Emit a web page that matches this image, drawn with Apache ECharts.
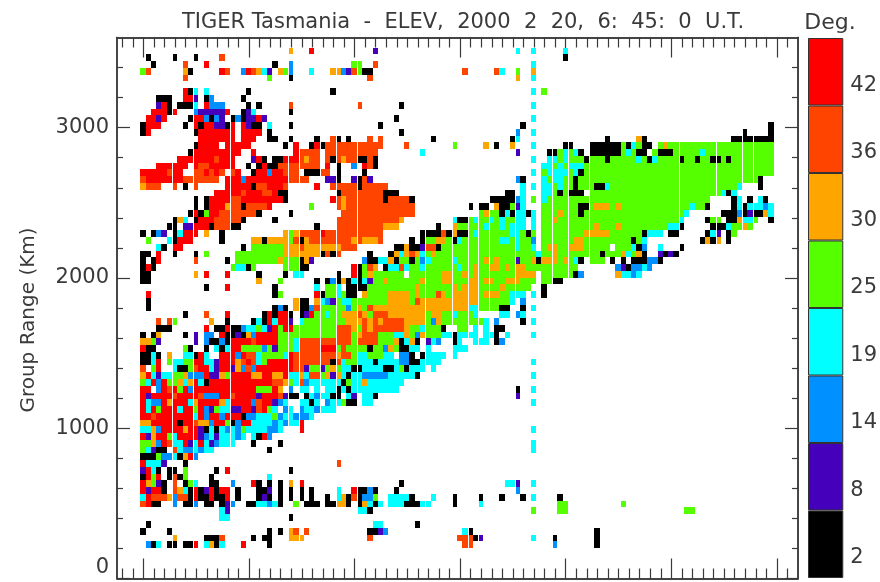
<!DOCTYPE html>
<html><head><meta charset="utf-8"><style>html,body{margin:0;padding:0;background:#fff}#c{width:880px;height:582px}</style>
<script src="https://cdn.jsdelivr.net/npm/echarts@6/dist/echarts.min.js"></script></head><body><div id="c"></div>
<script>
// Elevation classes (Deg.) and their colours
const levelLabels = ["2","8","14","19","25","30","36","42"];
const levelCodes  = "kpbcgorR";
const levelColors = ["#000000","#4400bb","#0090ff","#00ffff","#55ff00","#ffa500","#ff4400","#ff0000"];
const yMajorTicks = [0,1000,2000,3000];
const yMinorTicks = [200,400,600,800,1200,1400,1600,1800,2200,2400,2600,2800,3200,3400];
const xMajorTicks = [0.6,20.6,40.6,60.6,80.6,100.6,120.6];
const xMinorTicks = [-3.4,-1.4,2.6,4.6,6.6,8.6,10.6,12.6,14.6,16.6,18.6,22.6,24.6,26.6,28.6,30.6,32.6,34.6,36.6,38.6,42.6,44.6,46.6,48.6,50.6,52.6,54.6,56.6,58.6,62.6,64.6,66.6,68.6,70.6,72.6,74.6,76.6,78.6,82.6,84.6,86.6,88.6,90.6,92.6,94.6,96.6,98.6,102.6,104.6,106.6,108.6,110.6,112.6,114.6,116.6,118.6,122.6];
const gapColumns = [6,10,17,28,30,34,37,41,54,59,62,64,66,71,78,81,85,102,109,114,116];
const firstRange = 3510, rangeStep = 45;
// One string per range gate from the top: "column:codes"; a number after a code repeats it, _ is no echo
const echoRows = [
"28:o 32:R 44:p 71:c 74:c 80:c",
"1:k 6:k 10:k 15:r 80:k",
"2:k 8:r 12:R 25:k 28:b 40:g 41:g 44:r 74:c",
"0:gr 8:ok 15:Rr 19:bRrocp_ogb 32:c 36:o2bpr 41:gk2 61:r 67:rc 71:g 74:o",
"8:r 24:g 28:k 43:r 71:o 74:c",
"",
"8:Rkc_c 20:k 36:k 74:c 76:g",
"3:k3 8:R2 10:p_kb 19:k",
"3:pRk 7:k3 10:c_Rb3 20:k_k 28:r 41:r 49:k 74:c",
"2:R3k 6:R 10:bp5R 19:kpc 28:k",
"1:R2pR 9:kR2bkbp 17:kbkp2Rp 48:k 74:c",
"0:kR3 8:k 10:RkR2p2kR 19:Rpk2 24:c 28:k 45:k 72:k 119:k",
"0:kR 10:kR6 17:R 19:R4 24:k 49:k 71:b 74:c 114:k 119:k",
"11:R6 17:R 19:R3 24:k2 28:k 33:k 36:r 37:k 39:k 43:r 45:r 55:k 70:k 71:c 88:k 94:ok 112:k8",
"10:kR4 16:R 17:R4 27:k 29:R 32:kRkr2 37:r4 41:r5 50:r 59:g 65:o 67:k 70:o 74:c 80:k2 85:k3 88:k3gkcgk2 98:gog20",
"9:kR7 17:R2 21:R 29:Rr2 32:r2 35:r2 37:r4 41:r4 53:c 71:p 77:k2gcgck 85:k6gcgk2 97:gk3g5cg13",
"7:R7rR3 21:pRk_k2R3ror2 35:rkror2k2rk 74:c 77:c2gcg3k 85:g3kg5cgkcg4kg2kg2k2gkg8",
"3:R6_Rr2R5 20:k_kRk2r8 35:R 37:k 40:b 42:Rrk 76:c2gcgc3g 85:g35",
"0:R5rR2 10:r2RrRr 17:rR 21:kR2bR2r3 31:k3r2 37:k 42:k 74:c 76:gc4gckg 85:g35",
"0:rR7r2r5_R3bR8r4 35:p2k 40:pkrp 71:bk 76:cgc2g2kg2 85:g32 117:k",
"0:or3 6:r 8:k 10:r 16:R5 21:kr2R3r 33:R 36:r5kr5 72:c 74:c 76:c2gcg2kg2 85:gk2cg24c 117:k",
"14:R5rR3r2Rk2 37:kr8k3 69:k2_c 76:c2gkgk3 85:g25ckc",
"10:k_kR4r2R8k 36:Rror7kr4 51:k 66:k5bc 74:g 76:cg8 85:g23 112:kc_k_ck",
"10:k_kR3or2kr4R 32:g 37:ror13 62:k_k2_ok2gpc 76:g7k2 85:go3gog13cg2k 112:kckc3bc",
"9:kRkgR2r7k 28:k 38:r14 64:gog2kckc2kc 76:g3og3kg 85:g18c 110:k3bkpk2oc",
"6:koc 10:kR3r5k 25:k 37:r12o 59:ck2gcg2cgcg2c2 74:c 76:g2og6 85:g17c 107:kg2_k2oc2g 119:k",
"5:k2_p2R3kr3k2 33:k 37:r9o3 56:k 59:og5cg2cgc3 74:c 76:g9 85:gog3og9c2k 108:k3cg2og",
"0:k_kbp_kcR3 12:o 15:k 27:ogor4Rr2 37:r9 53:k4rkok2gcg6c2gkg 76:g8o 85:o4g6kc3_k2 107:kcp_kg",
"1:g 5:ckR3 15:k 21:o2ko4grkor5 37:r3oro3r 51:k_kg2o2gkcg7c2gcg2b 76:g6o2g 85:g8kgc 106:koko_k",
"3:ck 6:R2 19:k 21:g6o3ro7r3 48:k2ok2pr2kg14cg2c 76:go2g2o3g 85:g4_g3ckb 98:c 102:k",
"0:k2_R 6:k 10:k 12:g 18:g9o7krkr 43:k 47:ko 49:corocgog19c 76:g2og6 85:g2kg3ocgok 98:pkpk",
"0:k_kR 10:r 16:k 18:g8og3kop 42:bk2c2okg 50:gkgbcg4cg5ogog3pg2oko3gogck 85:g3_k_k_k3b2k",
"0:kRk 17:gc2kg 27:g3k2 40:Rkgro 46:kc2rcg2cg6cg2og2o2gogo2g2 75:g8 90:bpkb2cb",
"0:k2 10:o 12:R 16:R 22:k 27:k 29:c2 37:k 40:Rkgog6 51:g6o2g2ogog7o4 76:g6kb 90:oc2bc",
"0:k2 22:o 26:g 33:k_kbkokckcpg2og3 47:g6og3o2g3o2go2g2o3g3 76:g2k2",
"12:k 16:R 25:k 33:c 35:g2c_k4g8 51:gog6ogo3g4og5 76:k",
"1:R 25:kg 33:Rkg2cgk2_og4o4 51:gog3rogo5go3g2c3 74:c 76:k",
"1:k 29:ok2_ocbpgc2g7o4 51:gro11g6c_b",
"1:k 25:kbk_ok2brg5bgogro18c2g4k2 72:k 74:c",
"8:k 12:r 16:R 23:kRkR2k_kpRg2cg2o3rogr3o7go2g2cg3c 68:c2_bc",
"3:r_rg 13:o 16:k 21:kckRcR2p_cg8o3rororr3o4gbog8c_b 72:k 74:c",
"3:k3 12:R 14:k2Rk2bc2gcpRgR2g8 37:r3ogror6og2cg3k 60:g2_c_c_k2",
"0:k_ko 8:k_p_b2_Rk2pkobR4g11r3gor3g3c 49:cogbog3c2kc4_c2k_c 74:c",
"0:o2gp 10:p_bk2bkR4rR4g3cr10gr4g3okcok_pcb__kc__c3_kb",
"0:Rk2 8:gk__k_ckcR2g4bgpg3cr4R3grg4kg2bogk2c2_c 59:c3",
"0:k2ck_o__c2kRc__R3bRr2cg4cRr8or2gc2g3c2_b2k_kc4_c",
"0:k2cR_gc2g2R2c2pR3orRrcgR5r7krcg2c3kc4b2k2c4 74:c",
"0:r_gR__ck2grR2cpR2pobrbR7r2pg2pgogc2k2c4k2cgkc3_c",
"0:oRcpc2g2ob3Rp2ogR4o2R2o2Rc2ocr2gopockc2b5c5k 74:c",
"0:gcRbRg2ocoRckR12r2ogcrbc6kgc2oc7",
"0:R2_bRrRgRbR12g3Ro_b_c2_c_c2kckc9 71:k 74:c",
"0:RpR4rR4rb3R2rR4pR3rpk2_kcbc2k2_cp_c2k 71:p",
"0:Rcb2RoR3coR4ocR4brR2pbc__c2kc_bc2gk2_c2 74:c",
"0:RcRgR3cR2gRbpgc2p2R2prRgc_bc_bc2bc3",
"0:R2rR7cRbR2bR3kb2c3gbc2b3c",
"0:o2R5kR2ro2bR2gkbR2c4bcbc2R",
"0:c2obR4oR2pkckcbcbgc4b2c 30:R 74:c",
"0:RpoR2gcR4pbcpc3bc_ckRb",
"0:g2obRrc2RpcRcpbc3 21:k 26:k 74:c",
"0:gcpk2 6:rcb2cbc2 24:k 74:c",
"0:k3gb2ckoRb",
"0:Rc3p 8:k 37:r",
"0:pRck_k2_g 14:k 16:R 28:k",
"0:kRgR_krkg 13:k 24:c",
"0:Rogpk_r_kgc 13:k2 17:b 21:Rk_k_k_o_R 49:k 69:c2p 74:c",
"0:RpR2k_rockRkpRkR2_k 22:k2p_k_k_k_k 37:c 40:Rk2bk 48:k 71:b",
"0:cRr3obr2kRk2Rk2R_k 22:kpk_k_k_k_k 35:k_cokrkb2g 47:c4k 55:c 59:k 64:k 68:k 72:k 74:c 79:k",
"0:rRk2 6:b_k2b_k2_kpb 20:k2c2bck 29:g 31:k3_k2o2k_kockc 47:c3k3c2 59:k 64:c 79:g2 91:g",
"15:cp 41:c2k 74:g 79:g2 103:g2",
"15:c2 28:k",
"1:k 44:c2 52:k",
"0:k 5:k 24:k 26:k 28:or_r 43:k2pb 61:ck 86:k",
"6:o 12:k3r 21:k_k2 28:o3 43:r 60:r3kp 74:c 78:k 86:k",
"1:bkc 5:k2 8:k2R 12:cokc 19:R 24:k 61:r2 78:b 86:k"
];

const cells = [];
echoRows.forEach(function(row, r){
  row.split(" ").filter(Boolean).forEach(function(tok){
    const parts = tok.split(":");
    let col = +parts[0];
    parts[1].replace(/([kpbcgorR_])(\d*)/g, function(m, code, n){
      const count = n ? +n : 1;
      for (let i = 0; i < count; i++, col++) {
        if (code !== "_") cells.push([col, firstRange - r*rangeStep, levelCodes.indexOf(code)]);
      }
      return m;
    });
  });
});

const ink = "#3a3a3a", font = "DejaVu Sans";
function tickAxis(extra){
  return Object.assign({
    type:"value", gridIndex:0, min:-4.41, max:124.6, scale:false,
    axisLine:{show:true,onZero:false,lineStyle:{color:ink,width:1.5}},
    axisLabel:{show:false}, splitLine:{show:false}
  }, extra);
}
function ticks(vals,len){ return {show:true,inside:true,length:len,customValues:vals,lineStyle:{color:ink,width:1.2}}; }
function yAxisOf(extra){
  return Object.assign({
    type:"value", gridIndex:0, min:0, max:3600,
    axisLine:{show:true,onZero:false,lineStyle:{color:ink,width:1.5}},
    axisLabel:{show:false}, splitLine:{show:false}
  }, extra);
}
const chart = echarts.init(document.getElementById("c"), null, {renderer:"canvas"});
chart.setOption({
  animation:false, backgroundColor:"#fff",
  title:[
    {text:"TIGER Tasmania  -  ELEV,  2000  2  20,  6:  45:  0  U.T.", left:458, top:7, textAlign:"center",
     textStyle:{fontFamily:font,fontWeight:"normal",fontSize:21,color:ink}},
    {text:"Deg.", left:825, top:7, textAlign:"center", textStyle:{fontFamily:font,fontWeight:"normal",fontSize:22,color:ink}}
  ],
  grid:[
    {left:117, top:37.5, width:681, height:541},
    {left:808, top:38, width:36, height:540}
  ],
  xAxis:[
    tickAxis({position:"bottom",axisTick:ticks(xMajorTicks,20)}),
    tickAxis({position:"bottom",axisTick:ticks(xMinorTicks,10)}),
    tickAxis({position:"top",axisTick:ticks(xMajorTicks,20)}),
    tickAxis({position:"top",axisTick:ticks(xMinorTicks,10)}),
    {type:"value",gridIndex:1,min:0,max:1,show:false}
  ],
  yAxis:[
    yAxisOf({position:"left",name:"Group Range (Km)",nameLocation:"middle",nameGap:78,nameRotate:90,
      nameTextStyle:{fontFamily:font,fontSize:20,color:ink,padding:[0,0,0,-24]},
      axisTick:ticks(yMajorTicks,13),
      axisLabel:{show:true,customValues:yMajorTicks,margin:8,fontFamily:font,fontSize:21,color:ink,verticalAlignMinLabel:"bottom",
        formatter:function(v){return String(v);}}}),
    yAxisOf({position:"left",axisTick:ticks(yMinorTicks,6)}),
    yAxisOf({position:"right",axisTick:ticks(yMajorTicks,13)}),
    yAxisOf({position:"right",axisTick:ticks(yMinorTicks,6)}),
    {type:"category",gridIndex:1,data:levelLabels,position:"right",
      axisLine:{show:false},axisTick:{show:false},
      axisLabel:{margin:7,fontFamily:font,fontSize:21,color:ink,verticalAlign:"top",padding:[3,0,0,0]}}
  ],
  series:[
    {type:"custom",xAxisIndex:0,yAxisIndex:0,silent:true,progressive:0,clip:true,z:1,
     data:cells,encode:{x:0,y:1},
     renderItem:function(params,api){
       const col=api.value(0), rng=api.value(1);
       const a=api.coord([col,rng+rangeStep/2]), b=api.coord([col+1,rng-rangeStep/2]);
       const x0=Math.round(a[0])+(gapColumns.indexOf(col)>=0?1:0), x1=Math.round(b[0]);
       const y0=Math.round(a[1]), y1=Math.round(b[1]);
       return {type:"rect",shape:{x:x0,y:y0,width:x1-x0,height:y1-y0},style:{fill:levelColors[api.value(2)]}};
     }},
    {type:"bar",xAxisIndex:4,yAxisIndex:4,silent:true,barWidth:"100%",z:2,
     data:levelColors.map(function(c){return {value:1,itemStyle:{color:c,borderColor:"#333",borderWidth:1}};})}
  ]
});
</script></body></html>
